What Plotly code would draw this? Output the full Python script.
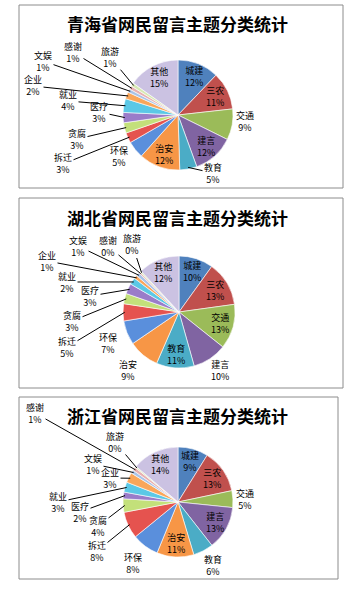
import numpy as np
import plotly.graph_objects as go

W, H = 348, 589

# ---------------- data ----------------
categories = ["城建", "三农", "交通", "建言", "教育", "治安", "环保", "拆迁",
              "贪腐", "医疗", "就业", "企业", "文娱", "感谢", "旅游", "其他"]
titles = ["青海省网民留言主题分类统计", "湖北省网民留言主题分类统计", "浙江省网民留言主题分类统计"]
qinghai = [12, 11, 9, 12, 5, 12, 5, 3, 3, 3, 4, 2, 1, 1, 1, 15]
hubei = [10, 13, 13, 10, 11, 9, 7, 5, 3, 3, 2, 1, 1, 0.4, 0.4, 12]
zhejiang = [9, 13, 5, 13, 6, 11, 8, 8, 4, 2, 3, 3, 1, 1, 0.4, 14]
series = [qinghai, hubei, zhejiang]

# ---------------- style ----------------
colors = ["#4F81BD", "#C0504D", "#9BBB59", "#8064A2", "#4BACC6", "#F79646",
          "#5A8FDC", "#E5534F", "#C3E07A", "#9A7CC9", "#5BC8E6", "#FAA65A",
          "#A9C3E8", "#E8B0B0", "#D7E8B4", "#CBC2E2"]
FONT = "Noto Sans CJK SC, Noto Sans, sans-serif"

# panel layout: box (x0,y0,x1,y1), title y, pie centre & radius, outside label spots
panels = [
    dict(box=(19, 5, 343, 188), title_y=23, center=(178, 115, 55),
         out={"交通": (245, 122, False), "教育": (213, 173, True), "环保": (119, 156, False),
              "拆迁": (63, 164, True), "贪腐": (77, 139, True), "医疗": (99, 112, True),
              "就业": (68, 101, True), "企业": (33, 86, True), "文娱": (43, 61, True),
              "感谢": (73, 52, True), "旅游": (110, 57, True)}),
    dict(box=(19, 198, 343, 388), title_y=217, center=(179, 312, 56),
         out={"建言": (220, 371, False), "治安": (128, 370, False), "环保": (108, 343, False),
              "拆迁": (67, 347, True), "贪腐": (72, 321, True), "医疗": (90, 296, True),
              "就业": (67, 282, True), "企业": (47, 261, True), "文娱": (78, 246, True),
              "感谢": (108, 246, True), "旅游": (132, 244, True)}),
    dict(box=(19, 397, 338, 579), title_y=415, center=(178, 502, 55),
         out={"交通": (245, 499, False), "教育": (213, 565, False), "环保": (133, 563, False),
              "拆迁": (97, 551, True), "贪腐": (98, 526, True), "医疗": (80, 512, True),
              "就业": (58, 502, True), "企业": (110, 478, True), "文娱": (93, 464, True),
              "旅游": (115, 442, True), "感谢": (35, 413, True)}),
]

fig = go.Figure()

def label(x, y, txt, size=9, **kw):
    fig.add_annotation(x=x / W, y=1 - y / H, xref="paper", yref="paper", text=txt,
                       showarrow=False, xanchor="center", yanchor="middle",
                       font=dict(family=FONT, size=size, color="black"), **kw)

for vals, title, lay in zip(series, titles, panels):
    cx, cy, R = lay["center"]
    x0, y0, x1, y1 = lay["box"]
    fig.add_shape(type="rect", xref="paper", yref="paper",
                  x0=x0 / W, x1=x1 / W, y0=1 - y1 / H, y1=1 - y0 / H,
                  line=dict(color="#8C8C8C", width=1), fillcolor="rgba(0,0,0,0)")
    label(177, lay["title_y"], f"<b>{title}</b>", size=17)
    fig.add_trace(go.Pie(
        labels=categories, values=vals, sort=False, direction="clockwise", rotation=0,
        marker=dict(colors=colors, line=dict(color="white", width=0.6)),
        textinfo="none", hoverinfo="label+value", showlegend=False,
        domain=dict(x=[(cx - R) / W, (cx + R) / W], y=[1 - (cy + R) / H, 1 - (cy - R) / H]),
    ))
    v = np.array(vals, dtype=float)
    cum = np.cumsum(v)
    mid = (cum - v / 2) / v.sum() * 2 * np.pi
    for i, cat in enumerate(categories):
        txt = f"{cat}<br>{vals[i]:.0f}%"
        s, c = np.sin(mid[i]), np.cos(mid[i])
        if cat in lay["out"]:
            tx, ty, line = lay["out"][cat]
            if line:
                ex, ey = cx + 0.97 * R * s, cy - 0.97 * R * c
                fig.add_annotation(x=ex / W, y=1 - ey / H, xref="paper", yref="paper",
                                   text=txt, showarrow=True, arrowhead=0, arrowwidth=1,
                                   arrowcolor="black", ax=tx - ex, ay=ty - ey,
                                   font=dict(family=FONT, size=9, color="black"))
            else:
                label(tx, ty, txt)
        else:
            label(cx + 0.76 * R * s, cy - 0.76 * R * c, txt)

fig.update_layout(width=W, height=H, autosize=False,
                  margin=dict(l=0, r=0, t=0, b=0),
                  paper_bgcolor="white", plot_bgcolor="white")

fig.write_html("out.html")
